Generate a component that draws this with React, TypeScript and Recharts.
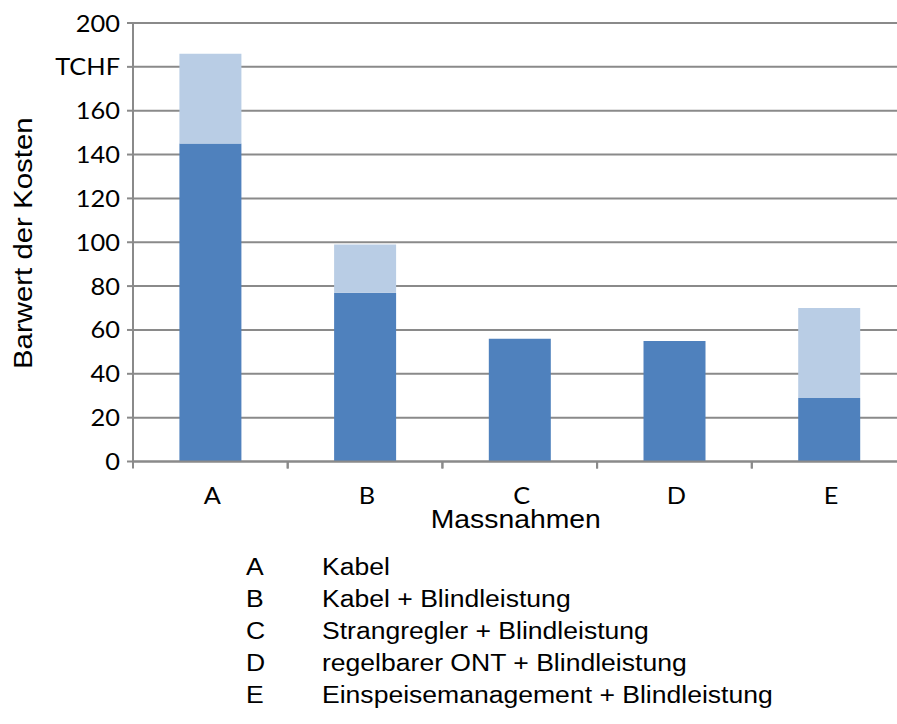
import { Bar, BarChart, CartesianGrid, Label, XAxis, YAxis } from "recharts";

// Barwert der Kosten je Massnahme (TCHF)
const measures = ["A", "B", "C", "D", "E"];
const baseCost = [145, 77, 56, 55, 29];
const extraCost = [41, 22, 0, 0, 41];
const yTicks = [0, 20, 40, 60, 80, 100, 120, 140, 160, 180, 200];
const unitTick = 180;
const unitLabel = "TCHF";
const measureNames = [
  "Kabel",
  "Kabel + Blindleistung",
  "Strangregler + Blindleistung",
  "regelbarer ONT + Blindleistung",
  "Einspeisemanagement + Blindleistung",
];

const data = measures.map((m, i) => ({
  measure: m,
  base: baseCost[i],
  extra: extraCost[i],
}));

const GRID = "#8a8a8a";
const DARK = "#4f81bd";
const LIGHT = "#b9cde5";
const CALIBRI = "Lato, 'Open Sans', sans-serif";
const ARIAL = "'Liberation Sans', Arial, sans-serif";

// text widened horizontally around its anchor point
function WideText({
  x,
  y,
  sx,
  size,
  family,
  anchor = "start",
  rotate = 0,
  children,
}: {
  x: number;
  y: number;
  sx: number;
  size: number;
  family: string;
  anchor?: "start" | "middle" | "end";
  rotate?: number;
  children: React.ReactNode;
}) {
  return (
    <text
      transform={`translate(${x} ${y}) rotate(${rotate}) scale(${sx} 1)`}
      x={0}
      y={0}
      textAnchor={anchor}
      fontSize={size}
      fontFamily={family}
      fill="#000"
    >
      {children}
    </text>
  );
}

function YTick(props: any) {
  const { x, y, payload } = props;
  const text = payload.value === unitTick ? unitLabel : String(payload.value);
  return (
    <WideText x={x} y={y + 8.5} sx={1.08} size={23.5} family={CALIBRI} anchor="end">
      {text}
    </WideText>
  );
}

// category label plus tick marks on the category boundaries
function XTick(props: any) {
  const { x, y, payload, width, visibleTicksCount } = props;
  const half = width / visibleTicksCount / 2;
  return (
    <g>
      <line x1={x - half} x2={x - half} y1={y} y2={y + 7} stroke={GRID} strokeWidth={2} />
      <line x1={x + half} x2={x + half} y1={y} y2={y + 7} stroke={GRID} strokeWidth={2} />
      <WideText x={x + 2} y={y + 42} sx={1.1} size={23} family={CALIBRI} anchor="middle">
        {payload.value}
      </WideText>
    </g>
  );
}

function YTitle(props: any) {
  const { viewBox } = props;
  const cy = viewBox.y + viewBox.height / 2;
  return (
    <WideText x={32} y={cy + 1} sx={1.11} size={26.5} family={ARIAL} anchor="middle" rotate={-90}>
      Barwert der Kosten
    </WideText>
  );
}

function XTitle(props: any) {
  const { viewBox } = props;
  const cx = viewBox.x + viewBox.width / 2;
  return (
    <WideText x={cx - 4} y={viewBox.y + 66} sx={1.07} size={26.5} family={ARIAL} anchor="middle">
      Massnahmen
    </WideText>
  );
}

export default function App() {
  return (
    <div
      style={{
        position: "fixed",
        left: 0,
        top: 0,
        width: 897,
        height: 724,
        overflow: "hidden",
        background: "#fff",
      }}
    >
      <BarChart
        width={920}
        height={724}
        data={data}
        margin={{ top: 23, right: 13.5, bottom: 222.5, left: 0 }}
        barCategoryGap="30%"
      >
        <CartesianGrid vertical={false} stroke={GRID} strokeWidth={2} />
        <XAxis
          dataKey="measure"
          height={40}
          interval={0}
          axisLine={{ stroke: GRID, strokeWidth: 2 }}
          tickLine={false}
          tickSize={0}
          tickMargin={0}
          tick={<XTick />}
        >
          <Label content={<XTitle />} />
        </XAxis>
        <YAxis
          width={133}
          domain={[0, 200]}
          ticks={yTicks}
          interval={0}
          axisLine={{ stroke: GRID, strokeWidth: 2 }}
          tickLine={{ stroke: GRID, strokeWidth: 2 }}
          tickSize={6}
          tickMargin={7}
          tick={<YTick />}
        >
          <Label content={<YTitle />} />
        </YAxis>
        <Bar dataKey="base" stackId="cost" fill={DARK} isAnimationActive={false} />
        <Bar dataKey="extra" stackId="cost" fill={LIGHT} isAnimationActive={false} />
      </BarChart>

      <svg
        width={897}
        height={724}
        style={{ position: "absolute", left: 0, top: 0, pointerEvents: "none" }}
      >
        {measures.map((m, i) => (
          <g key={m}>
            <WideText x={246} y={575 + i * 32} sx={1.13} size={23.5} family={ARIAL}>
              {m}
            </WideText>
            <WideText x={322} y={575 + i * 32} sx={1.13} size={23.5} family={ARIAL}>
              {measureNames[i]}
            </WideText>
          </g>
        ))}
      </svg>
    </div>
  );
}
